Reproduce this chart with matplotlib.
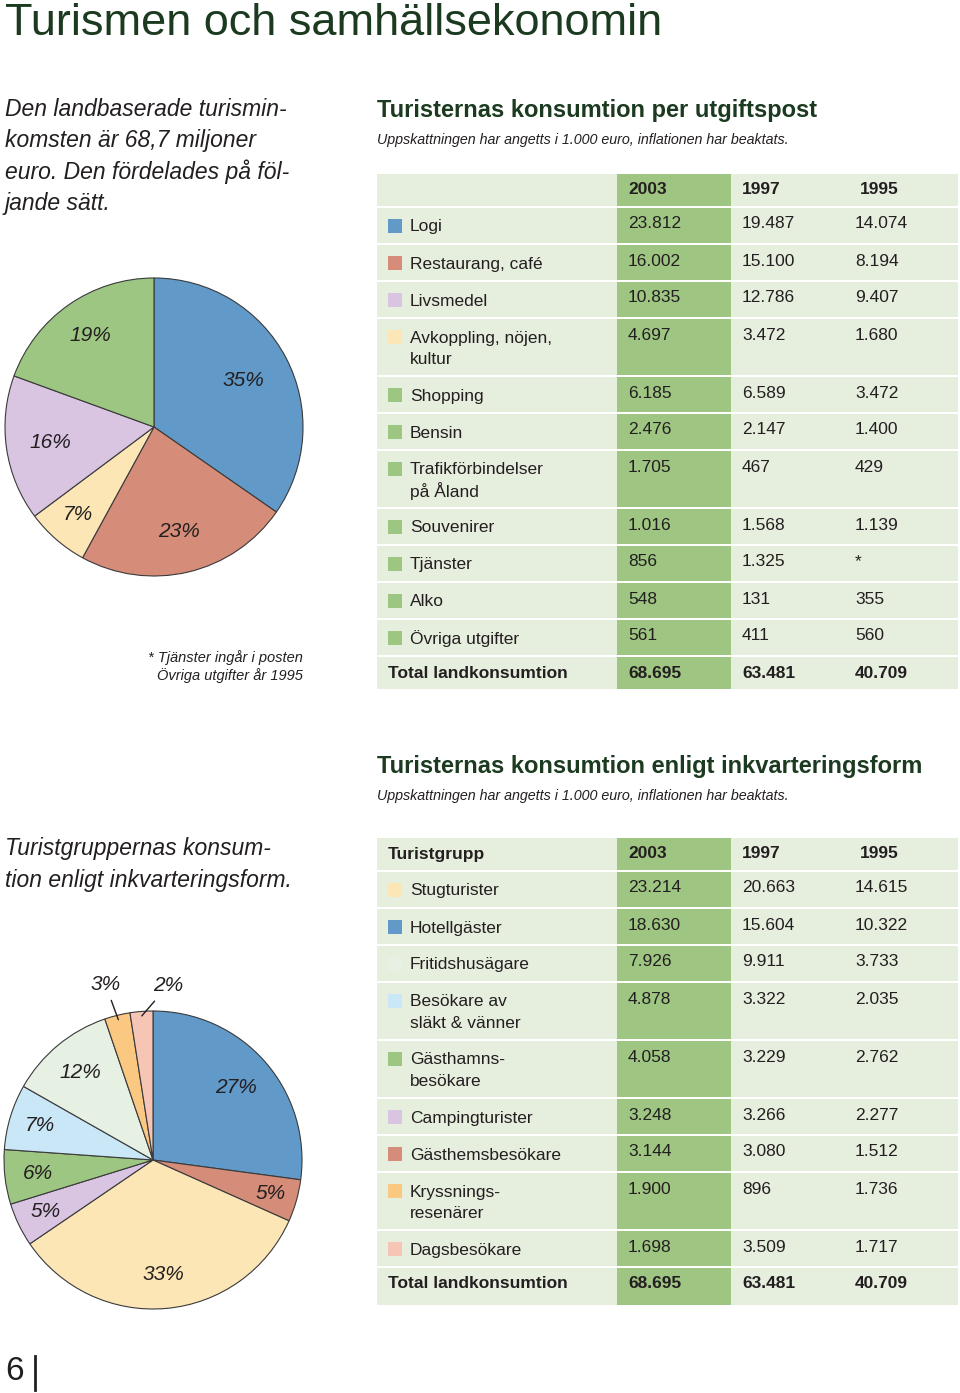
import numpy as np
import matplotlib.pyplot as plt
from matplotlib.patches import Rectangle

plt.rcParams['font.family'] = ['Liberation Sans', 'DejaVu Sans']

# ---- data -------------------------------------------------------------
years = ['2003', '1997', '1995']

post_labels = ['Logi', 'Restaurang, café', 'Livsmedel', 'Avkoppling, nöjen,\nkultur',
               'Shopping', 'Bensin', 'Trafikförbindelser\npå Åland', 'Souvenirer',
               'Tjänster', 'Alko', 'Övriga utgifter']
post_2003 = [23812, 16002, 10835, 4697, 6185, 2476, 1705, 1016, 856, 548, 561]
post_1997 = [19487, 15100, 12786, 3472, 6589, 2147, 467, 1568, 1325, 131, 411]
post_1995 = [14074, 8194, 9407, 1680, 3472, 1400, 429, 1139, None, 355, 560]
post_total = [68695, 63481, 40709]

group_labels = ['Stugturister', 'Hotellgäster', 'Fritidshusägare', 'Besökare av\nsläkt & vänner',
                'Gästhamns-\nbesökare', 'Campingturister', 'Gästhemsbesökare',
                'Kryssnings-\nresenärer', 'Dagsbesökare']
group_2003 = [23214, 18630, 7926, 4878, 4058, 3248, 3144, 1900, 1698]
group_1997 = [20663, 15604, 9911, 3322, 3229, 3266, 3080, 896, 3509]
group_1995 = [14615, 10322, 3733, 2035, 2762, 2277, 1512, 1736, 1717]
group_total = [68695, 63481, 40709]

# pie 1: Logi, Restaurang, Avkoppling, Livsmedel, övrigt (rest)
pie1_labels = ['35%', '23%', '7%', '16%', '19%']
# pie 2: order of groups clockwise from top
pie2_order = [1, 6, 0, 5, 4, 3, 2, 7, 8]
pie2_labels = ['27%', '5%', '33%', '5%', '6%', '7%', '12%', '3%', '2%']

# ---- style ------------------------------------------------------------
BLUE = '#6199c9'
RED = '#d58c78'
YELLOW = '#fde6b6'
LAVENDER = '#d9c5e2'
GREEN = '#9dc683'
LIGHTBLUE = '#c9e7f6'
PALEGREEN = '#e6f1e4'
ORANGE = '#fbc882'
PINK = '#f7c5b5'

post_colors = [BLUE, RED, LAVENDER, YELLOW] + [GREEN] * 7
group_colors = [YELLOW, BLUE, PALEGREEN, LIGHTBLUE, GREEN, LAVENDER, RED, ORANGE, PINK]

TABLE_BG = '#e6eede'
COL_BG = '#9ec582'
DARKGREEN = '#1b3a20'
TXT = '#231f20'
FS = 12.5

W, H = 960, 1393
fig = plt.figure(figsize=(W / 100, H / 100), dpi=100)
ax = fig.add_axes([0, 0, 1, 1])
ax.set_xlim(0, W)
ax.set_ylim(H, 0)
ax.axis('off')


def fmt(v):
    if v is None:
        return '*'
    return f'{v:,}'.replace(',', '.')


def draw_table(top, header, labels, colors, cols, totals):
    x0, x1 = 377, 958
    cx0, cx1 = 617, 731
    val_x = [628, 742, 855]
    head_x = [628, 742, 860]
    gap = 2

    # header row
    h = 32
    ax.add_patch(Rectangle((x0, top), x1 - x0, h, color=TABLE_BG, lw=0))
    ax.add_patch(Rectangle((cx0, top), cx1 - cx0, h, color=COL_BG, lw=0))
    if header:
        ax.text(388, top + 16, header, fontsize=FS, fontweight='bold', color=TXT, va='center')
    for x, yr in zip(head_x, years):
        ax.text(x, top + 16, yr, fontsize=FS, fontweight='bold', color=TXT, va='center')
    y = top + h + gap

    for i, lab in enumerate(labels):
        lines = lab.split('\n')
        h = 35 if len(lines) == 1 else 56
        ax.add_patch(Rectangle((x0, y), x1 - x0, h, color=TABLE_BG, lw=0))
        ax.add_patch(Rectangle((cx0, y), cx1 - cx0, h, color=COL_BG, lw=0))
        ax.add_patch(Rectangle((388, y + 11), 14, 14, color=colors[i], lw=0))
        for k, line in enumerate(lines):
            ax.text(410, y + 19 + 21 * k, line, fontsize=FS, color=TXT, va='center')
        for x, col in zip(val_x, cols):
            ax.text(x, y + 16, fmt(col[i]), fontsize=FS, color=TXT, va='center')
        y += h + gap

    # total row
    h = 32 if len(labels) > 10 else 37
    ax.add_patch(Rectangle((x0, y), x1 - x0, h, color=TABLE_BG, lw=0))
    ax.add_patch(Rectangle((cx0, y), cx1 - cx0, h, color=COL_BG, lw=0))
    ax.text(388, y + 16, 'Total landkonsumtion', fontsize=FS, fontweight='bold', color=TXT, va='center')
    for x, v in zip(val_x, totals):
        ax.text(x, y + 16, fmt(v), fontsize=FS, fontweight='bold', color=TXT, va='center')


def draw_pie(cx, cy, r, values, colors, labels, dists):
    pad = 1.04
    side = 2 * r * pad
    pax = fig.add_axes([(cx - r * pad) / W, (H - cy - r * pad) / H, side / W, side / H])
    wedges, _ = pax.pie(values, colors=colors, startangle=90, counterclock=False, radius=1,
                        wedgeprops=dict(edgecolor='#3a3a3a', linewidth=0.8))
    pax.set_xlim(-pad, pad)
    pax.set_ylim(-pad, pad)
    pax.set_aspect('equal')
    pax.axis('off')
    for w, lab, d in zip(wedges, labels, dists):
        if d is None:
            continue
        mid = np.deg2rad((w.theta1 + w.theta2) / 2)
        pax.text(d * np.cos(mid), d * np.sin(mid), lab, fontsize=15, fontstyle='italic',
                 color=TXT, ha='center', va='center')
    return pax, wedges


# ---- texts ------------------------------------------------------------
ax.text(5, 35, 'Turismen och samhällsekonomin', fontsize=32.5, color=DARKGREEN, va='baseline')

intro1 = ['Den landbaserade turismin-', 'komsten är 68,7 miljoner',
          'euro. Den fördelades på föl-', 'jande sätt.']
for k, line in enumerate(intro1):
    ax.text(5, 109 + 31.5 * k, line, fontsize=16.5, fontstyle='italic', color=TXT, va='center')

intro2 = ['Turistgruppernas konsum-', 'tion enligt inkvarteringsform.']
for k, line in enumerate(intro2):
    ax.text(5, 849 + 31.5 * k, line, fontsize=16.5, fontstyle='italic', color=TXT, va='center')

sub = 'Uppskattningen har angetts i 1.000 euro, inflationen har beaktats.'
ax.text(377, 110, 'Turisternas konsumtion per utgiftspost', fontsize=17, fontweight='bold',
        color=DARKGREEN, va='center')
ax.text(377, 140, sub, fontsize=10.3, fontstyle='italic', color=TXT, va='center')
ax.text(377, 766, 'Turisternas konsumtion enligt inkvarteringsform', fontsize=17,
        fontweight='bold', color=DARKGREEN, va='center')
ax.text(377, 796, sub, fontsize=10.3, fontstyle='italic', color=TXT, va='center')

ax.text(303, 658, '* Tjänster ingår i posten', fontsize=10.5, fontstyle='italic', color=TXT,
        ha='right', va='center')
ax.text(303, 676, 'Övriga utgifter år 1995', fontsize=10.5, fontstyle='italic', color=TXT,
        ha='right', va='center')

ax.text(5, 1371, '6', fontsize=24, color=TXT, va='center')
ax.plot([35, 35], [1356, 1390], color=TXT, lw=2)

# ---- tables -----------------------------------------------------------
draw_table(174, '', post_labels, post_colors, [post_2003, post_1997, post_1995], post_total)
draw_table(838, 'Turistgrupp', group_labels, group_colors,
           [group_2003, group_1997, group_1995], group_total)

# ---- pies -------------------------------------------------------------
rest = sum(post_2003[4:])
pie1_values = [post_2003[0], post_2003[1], post_2003[3], post_2003[2], rest]
pie1_colors = [BLUE, RED, YELLOW, LAVENDER, GREEN]
draw_pie(154, 427, 149, pie1_values, pie1_colors, pie1_labels, [0.68, 0.72, 0.78, 0.70, 0.75])

pie2_values = [group_2003[i] for i in pie2_order]
pie2_colors = [group_colors[i] for i in pie2_order]
pax2, wedges2 = draw_pie(153, 1160, 149, pie2_values, pie2_colors, pie2_labels,
                         [0.74, 0.82, 0.77, 0.80, 0.78, 0.79, 0.76, None, None])
for idx, pos in zip([7, 8], [(-0.32, 1.18), (0.10, 1.17)]):
    w = wedges2[idx]
    mid = np.deg2rad((w.theta1 + w.theta2) / 2)
    pax2.annotate(pie2_labels[idx], xy=(0.97 * np.cos(mid), 0.97 * np.sin(mid)), xytext=pos,
                  fontsize=15, fontstyle='italic', color=TXT, ha='center', va='center',
                  arrowprops=dict(arrowstyle='-', color=TXT, lw=1, shrinkA=3, shrinkB=0))

fig.savefig('out.png', dpi=100)
